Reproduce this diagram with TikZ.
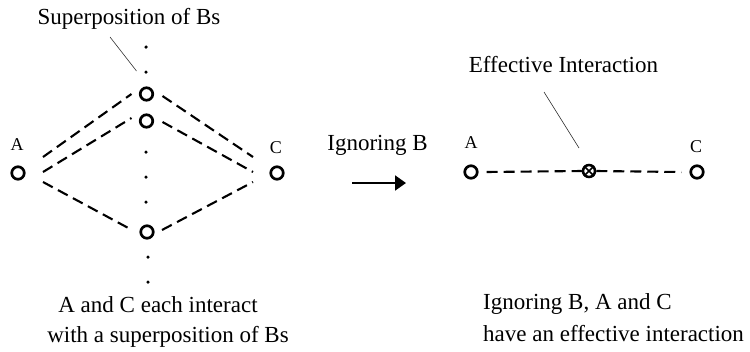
\documentclass[tikz,border=0pt]{standalone}
\usepackage{fontspec}
\setmainfont{Liberation Serif}
\usetikzlibrary{arrows.meta,calc}
\begin{document}
\begin{tikzpicture}[x=1pt,y=-1pt,
  site/.style={circle,draw,line width=2.7pt,inner sep=0pt,minimum size=12.5pt},
  tdot/.style={circle,fill,inner sep=0pt,minimum size=3.5pt},
  bond/.style={line width=2.1pt,dash pattern=on 11pt off 6pt},
  pointer/.style={line width=0.6pt,draw=black!80},
  bigtxt/.style={inner sep=0pt,anchor=base,font=\fontsize{23}{27}\selectfont},
  lbl/.style={inner sep=0pt,anchor=base,font=\fontsize{18}{21}\selectfont}]
\useasboundingbox (0,0) rectangle (750,351);
% left diagram
\node[site] (A) at (18,173) {};
\node[site] (C) at (277,173) {};
\node[site] (B1) at (146.5,94) {};
\node[site] (B2) at (146.5,121) {};
\node[site] (B3) at (147,232) {};
\node[lbl] (Al) at (17,150) {A};
\node[lbl] (Cl) at (276,153) {C};
\foreach \n/\x/\y in {d1/146/47,d2/146/72,d3/146/152,d4/146/177,d5/146/202,d6/148/257,d7/148/282}
  \node[tdot] (\n) at (\x,\y) {};
\draw[bond] ([shift={(25,-16)}]A.center) -- ([shift={(-15,0)}]B1.center);
\draw[bond] ([shift={(25,-1)}]A.center) -- ([shift={(-15,-3)}]B2.center);
\draw[bond] ([shift={(25,9)}]A.center) -- ([shift={(-15,-2)}]B3.center);
\draw[bond] ([shift={(16,2)}]B1.center) -- ([shift={(-24,-16)}]C.center);
\draw[bond] ([shift={(16,1)}]B2.center) -- ([shift={(-24,-1)}]C.center);
\draw[bond] ([shift={(15,-2)}]B3.center) -- ([shift={(-24,9)}]C.center);
\node[bigtxt] (sup) at (129,24) {Superposition of Bs};
\coordinate (p1) at (110,37);
\draw[pointer] (p1) -- ([shift={(-10,-23)}]B1.center);
\node[bigtxt] (t1) at (158,312) {A and C each interact};
\node[bigtxt] (t2) at (168,342) {with a superposition of Bs};
% middle
\node[bigtxt] (ign) at (377.5,150) {Ignoring B};
\coordinate (ar1) at (352,183);
\coordinate (ar2) at (406,183);
\draw[line width=2pt,-{Triangle[length=11pt,width=15pt]}] (ar1) -- (ar2);
% right diagram
\node[site] (A2) at (471,172) {};
\node[site] (C2) at (697,172) {};
\node[circle,draw,line width=2.5pt,inner sep=0pt,minimum size=12pt] (X) at (589,171) {};
\draw[line width=1.7pt] (X.45) -- (X.225) (X.135) -- (X.315);
\node[lbl] (A2l) at (471,148) {A};
\node[lbl] (C2l) at (696,152) {C};
\draw[bond] ([xshift=8pt]A2.east) -- (X.west);
\draw[bond] (X.east) -- ([xshift=-8pt]C2.west);
\node[bigtxt] (eff) at (563.5,72) {Effective Interaction};
\coordinate (p2) at (544,92);
\draw[pointer] (p2) -- ([shift={(-10,-23)}]X.center);
\node[bigtxt,anchor=base west] (t3) at (483,309) {Ignoring B, A and C};
\node[bigtxt,anchor=base west] (t4) at (483,341) {have an effective interaction};
\end{tikzpicture}
\end{document}
